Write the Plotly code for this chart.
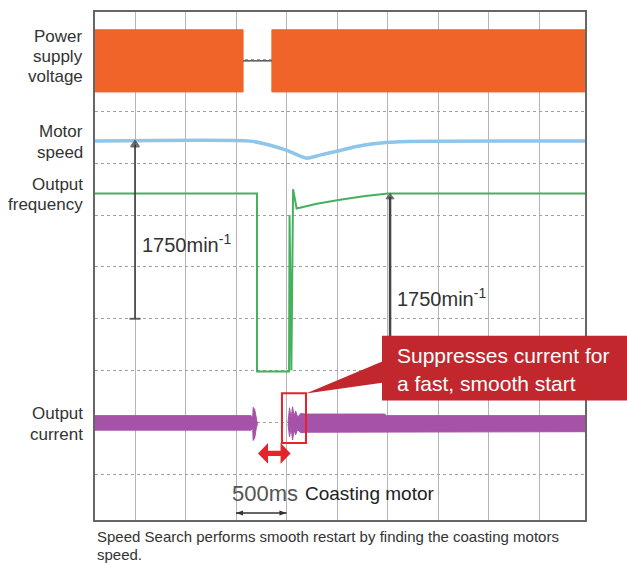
import plotly.graph_objects as go

# ---- data (time in ms, 0 = first scope division; vertical in scope divisions) ----
power_on_windows = [(-400, 1070), (1355, 4460)]
power_env = (7.38, 8.58)
power_off_x = [1070, 1355]
power_off_y = [7.98, 7.98]

speed_x = [-400, 1140, 1320, 1505, 1700, 1850, 2010, 2180, 2360, 2620, 4460]
speed_y = [6.43, 6.43, 6.36, 6.25, 6.10, 6.17, 6.24, 6.32, 6.38, 6.42, 6.43]

freq_x = [-400, 1208, 1208, 1525, 1530, 1548, 1565, 1600, 1800, 2030, 2280, 2505, 4460]
freq_y = [5.42, 5.42, 1.98, 1.98, 5.00, 2.00, 5.50, 5.13, 5.22, 5.30, 5.37, 5.42, 5.42]

cur_a_x = [-400, 1150, 1165, 1170, 1185, 1200, 1212]
cur_a_hi = [1.13, 1.13, 1.08, 1.29, 1.25, 1.10, 1.00]
cur_a_lo = [0.85, 0.85, 0.90, 0.65, 0.70, 0.88, 0.97]

cur_b_x = [1515, 1530, 1545, 1560, 1575, 1590, 1610, 1640, 1690, 2470, 2490, 4460]
cur_b_hi = [1.00, 1.28, 1.08, 1.30, 1.12, 1.22, 1.10, 1.17, 1.16, 1.16, 1.13, 1.13]
cur_b_lo = [0.97, 0.72, 0.90, 0.66, 0.85, 0.76, 0.86, 0.80, 0.81, 0.81, 0.82, 0.82]

speed_marker_x = [0, 0]
speed_marker_y = [3.0, 6.36]
freq_marker_x = [2525, 2525]
freq_marker_y = [2.0, 5.35]

labels_left = [("Power", 35), ("supply", 55), ("voltage", 75), ("Motor", 130), ("speed", 151),
               ("Output", 183), ("frequency", 203), ("Output", 413), ("current", 434)]

X_RANGE = [-396, 4455]
Y_RANGE = [-0.885, 8.923]

ORANGE = "#F0642A"
BLUE = "#8EC5EA"
GREEN = "#45B05E"
PURPLE = "#A552A8"
RED = "#E5232A"
CALLOUT = "#C1272D"
FONT = "Liberation Sans, Arial, sans-serif"

fig = go.Figure()

# power supply voltage band
for (a, b) in power_on_windows:
    lo, hi = power_env
    fig.add_trace(go.Scatter(x=[a, b, b, a, a], y=[hi, hi, lo, lo, hi], fill="toself",
                             fillcolor=ORANGE, line=dict(color=ORANGE, width=1),
                             mode="lines", hoverinfo="skip", showlegend=False))
fig.add_trace(go.Scatter(x=power_off_x, y=power_off_y, mode="lines",
                         line=dict(color="#555", width=1.5), showlegend=False))

# motor speed
fig.add_trace(go.Scatter(x=speed_x, y=speed_y, mode="lines",
                         line=dict(color=BLUE, width=3.5, shape="spline", smoothing=0.6),
                         showlegend=False))
# output frequency
fig.add_trace(go.Scatter(x=freq_x, y=freq_y, mode="lines", line=dict(color=GREEN, width=2),
                         showlegend=False))
# output current bands
for cx, hi, lo in [(cur_a_x, cur_a_hi, cur_a_lo), (cur_b_x, cur_b_hi, cur_b_lo)]:
    fig.add_trace(go.Scatter(x=cx + cx[::-1], y=hi + lo[::-1], fill="toself", fillcolor=PURPLE,
                             line=dict(color=PURPLE, width=1), mode="lines", showlegend=False))

# measurement markers
fig.add_trace(go.Scatter(x=speed_marker_x, y=speed_marker_y, mode="lines+markers",
                         line=dict(color="#333", width=1.5),
                         marker=dict(symbol=["line-ew", "triangle-up"], size=[8, 7], color="#333",
                                     line=dict(color="#333", width=2)), showlegend=False))
fig.add_trace(go.Scatter(x=freq_marker_x, y=freq_marker_y, mode="lines+markers",
                         line=dict(color="#444", width=2.5),
                         marker=dict(symbol=["line-ew", "triangle-up"], size=[8, 7], color="#333",
                                     line=dict(color="#333", width=1)), showlegend=False))

# helpers px -> paper
def px_x(px):
    return (px - 95) / 490.0

def px_y(py):
    return (520 - py) / 510.0

shapes = []
# red box
shapes.append(dict(type="rect", xref="x", yref="y", x0=1455, x1=1693, y0=0.60, y1=1.56,
                   line=dict(color=RED, width=2), fillcolor="rgba(0,0,0,0)"))
# red double arrow
x1, x2, yc = 1218, 1540, 0.40
hx, hy, sy = 99, 0.20, 0.05
path = (f"M {x1},{yc} L {x1+hx},{yc+hy} L {x1+hx},{yc+sy} L {x2-hx},{yc+sy} L {x2-hx},{yc+hy} "
        f"L {x2},{yc} L {x2-hx},{yc-hy} L {x2-hx},{yc-sy} L {x1+hx},{yc-sy} L {x1+hx},{yc-hy} Z")
shapes.append(dict(type="path", xref="x", yref="y", path=path, fillcolor=RED, line=dict(color=RED, width=0)))
# callout pointer
shapes.append(dict(type="path", xref="paper", yref="paper",
                   path=f"M {px_x(306)},{px_y(393)} L {px_x(384)},{px_y(360)} L {px_x(384)},{px_y(382)} Z",
                   fillcolor=CALLOUT, line=dict(color=CALLOUT, width=0)))
# callout box
shapes.append(dict(type="rect", xref="paper", yref="paper", x0=px_x(382), x1=px_x(640),
                   y0=px_y(400), y1=px_y(335), fillcolor=CALLOUT, line=dict(width=0)))
# 500 ms scale bar
shapes.append(dict(type="line", xref="x", yref="y", x0=1000, x1=1500, y0=-0.75, y1=-0.75,
                   line=dict(color="#333", width=1.5)))
shapes.append(dict(type="path", xref="x", yref="y",
                   path="M 1000,-0.75 L 1070,-0.70 L 1070,-0.80 Z", fillcolor="#333", line=dict(width=0)))
shapes.append(dict(type="path", xref="x", yref="y",
                   path="M 1500,-0.75 L 1430,-0.70 L 1430,-0.80 Z", fillcolor="#333", line=dict(width=0)))

annotations = []
for text, py in labels_left:
    annotations.append(dict(xref="paper", yref="paper", x=px_x(85), y=px_y(py), text=text,
                            xanchor="right", yanchor="middle", showarrow=False,
                            font=dict(family=FONT, size=17, color="#333")))
annotations += [
    dict(xref="x", yref="y", x=50, y=4.46, text="1750min<sup>-1</sup>", xanchor="left", yanchor="middle",
         showarrow=False, font=dict(family=FONT, size=20, color="#333")),
    dict(xref="x", yref="y", x=2574, y=3.42, text="1750min<sup>-1</sup>", xanchor="left", yanchor="middle",
         showarrow=False, font=dict(family=FONT, size=20, color="#333")),
    dict(xref="x", yref="y", x=1290, y=-0.365, text="500ms", xanchor="center", yanchor="middle",
         showarrow=False, font=dict(family=FONT, size=22, color="#555")),
    dict(xref="x", yref="y", x=1663, y=-0.365, text="Coasting motor", xanchor="left", yanchor="middle",
         showarrow=False, font=dict(family=FONT, size=19, color="#222")),
    dict(xref="paper", yref="paper", x=px_x(395), y=px_y(355), text="Suppresses current for",
         xanchor="left", yanchor="middle", showarrow=False, font=dict(family=FONT, size=21, color="white")),
    dict(xref="paper", yref="paper", x=px_x(395), y=px_y(383), text="a fast, smooth start",
         xanchor="left", yanchor="middle", showarrow=False, font=dict(family=FONT, size=21, color="white")),
    dict(xref="paper", yref="paper", x=0, y=px_y(537),
         text="Speed Search performs smooth restart by finding the coasting motors",
         xanchor="left", yanchor="middle", showarrow=False, font=dict(family=FONT, size=15, color="#333")),
    dict(xref="paper", yref="paper", x=0, y=px_y(555), text="speed.",
         xanchor="left", yanchor="middle", showarrow=False, font=dict(family=FONT, size=15, color="#333")),
]

fig.update_layout(
    width=627, height=563,
    margin=dict(l=95, r=42, t=10, b=43),
    paper_bgcolor="white", plot_bgcolor="white",
    shapes=shapes, annotations=annotations,
    showlegend=False,
)
fig.update_xaxes(range=X_RANGE, tick0=0, dtick=500, showticklabels=False, ticks="",
                 showgrid=True, gridcolor="#b5b5b5", gridwidth=1, zeroline=False,
                 showline=True, mirror=True, linecolor="#666", linewidth=1.5)
fig.update_yaxes(range=Y_RANGE, tick0=0, dtick=1, showticklabels=False, ticks="",
                 showgrid=True, gridcolor="#a0a0a0", gridwidth=1, griddash="dot", zeroline=False,
                 showline=True, mirror=True, linecolor="#666", linewidth=1.5)

fig.write_html("out.html", config={"displayModeBar": False},
               post_script="document.body.style.margin='0';")
